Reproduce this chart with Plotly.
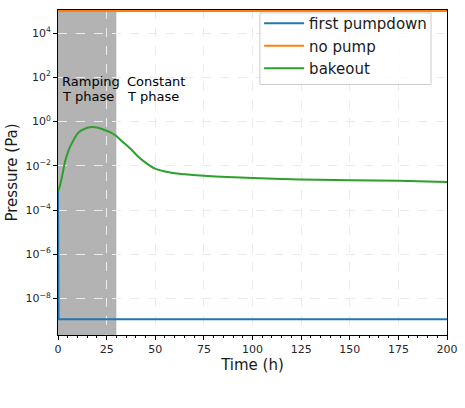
import plotly.graph_objects as go

# Data
t_pump = [0, 0.3, 200]
p_pump = [8e-4, 1.16e-9, 1.16e-9]

t_nopump = [0, 200]
p_nopump = [1.0e5, 1.0e5]

t_bake = [0, 1, 1.9, 3.6, 5.3, 7, 10.4, 13.8, 17.2, 20, 22.3, 25, 27.5, 30,
          33, 37.7, 41, 44.5, 49.6, 55, 62.4, 65, 75, 87, 100, 115, 134, 150, 175, 200]
p_bake = [6.8e-4, 1.3e-3, 2.7e-3, 0.015, 0.046, 0.1, 0.31, 0.47, 0.56, 0.54, 0.47,
          0.38, 0.31, 0.22, 0.126, 0.054, 0.027, 0.015, 7.6e-3, 5.5e-3, 4.3e-3,
          4.1e-3, 3.5e-3, 3.1e-3, 2.8e-3, 2.5e-3, 2.35e-3, 2.2e-3, 2.1e-3, 1.86e-3]

ramp_start, ramp_end = 0, 30
ytick_exp = [-8, -6, -4, -2, 0, 2, 4]
xtick_vals = [0, 25, 50, 75, 100, 125, 150, 175, 200]

FONT = "DejaVu Sans"

fig = go.Figure()
fig.add_trace(go.Scatter(x=t_pump, y=p_pump, mode="lines", name="first pumpdown",
                         line=dict(color="#1f77b4", width=2)))
fig.add_trace(go.Scatter(x=t_nopump, y=p_nopump, mode="lines", name="no pump",
                         line=dict(color="#ff7f0e", width=2)))
fig.add_trace(go.Scatter(x=t_bake, y=p_bake, mode="lines", name="bakeout",
                         line=dict(color="#2ca02c", width=2, shape="spline", smoothing=0.7)))

fig.add_shape(type="rect", xref="x", yref="paper", x0=ramp_start, x1=ramp_end,
              y0=0, y1=1, fillcolor="rgba(128,128,128,0.6)", line_width=0,
              layer="between")

# legend frame (matplotlib-style box)
fig.add_shape(type="rect", xref="paper", yref="paper", x0=0.519, x1=0.959,
              y0=0.771, y1=0.991, fillcolor="rgba(255,255,255,0.8)",
              line=dict(color="#cccccc", width=1), layer="above")

labels = [(0.9, "Ramping", 1.80), (0.9, "T phase", 1.13),
          (34.5, "Constant", 1.80), (34.5, "T phase", 1.13)]
for lx, txt, ly in labels:
    fig.add_annotation(x=lx, y=ly, xref="x", yref="y", text=txt,
                       showarrow=False, xanchor="left", yanchor="middle", align="left",
                       font=dict(family=FONT, size=13, color="black"))

fig.update_layout(
    width=465, height=408,
    margin=dict(l=58, r=16, t=7, b=73),
    paper_bgcolor="white", plot_bgcolor="white",
    font=dict(family=FONT, color="black"),
    showlegend=True,
    legend=dict(x=0.517, y=1.009, xanchor="left", yanchor="top",
                bgcolor="rgba(0,0,0,0)", borderwidth=0,
                font=dict(family=FONT, size=15, color="#1a1a1a"), itemwidth=40,
                tracegroupgap=2),
)
fig.update_xaxes(
    range=[0, 200], tickvals=xtick_vals, ticks="outside", ticklen=4, tickwidth=1,
    tickcolor="black", showline=True, linecolor="black", linewidth=1, mirror=True,
    showgrid=True, gridcolor="#ebebeb", griddash="dash", gridwidth=1, zeroline=False,
    tickfont=dict(family=FONT, size=11, color="#262626"),
    minor=dict(dtick=5, ticks="outside", ticklen=2, tickcolor="black", showgrid=False),
    title=dict(text="Time (h)", font=dict(family=FONT, size=15, color="#1a1a1a"), standoff=3),
)
fig.update_yaxes(
    type="log", range=[-9.65, 5.04],
    tickvals=[10.0 ** e for e in ytick_exp],
    ticktext=["10<sup>%s</sup>" % (str(e).replace("-", "\u2212")) for e in ytick_exp],
    ticks="outside", ticklen=4, tickwidth=1, tickcolor="black",
    showline=True, linecolor="black", linewidth=1, mirror=True,
    showgrid=True, gridcolor="#ebebeb", griddash="dash", gridwidth=1, zeroline=False,
    tickfont=dict(family=FONT, size=11, color="#262626"),
    title=dict(text="Pressure (Pa)", font=dict(family=FONT, size=15, color="#1a1a1a"), standoff=4),
)

fig.write_html("out.html")
